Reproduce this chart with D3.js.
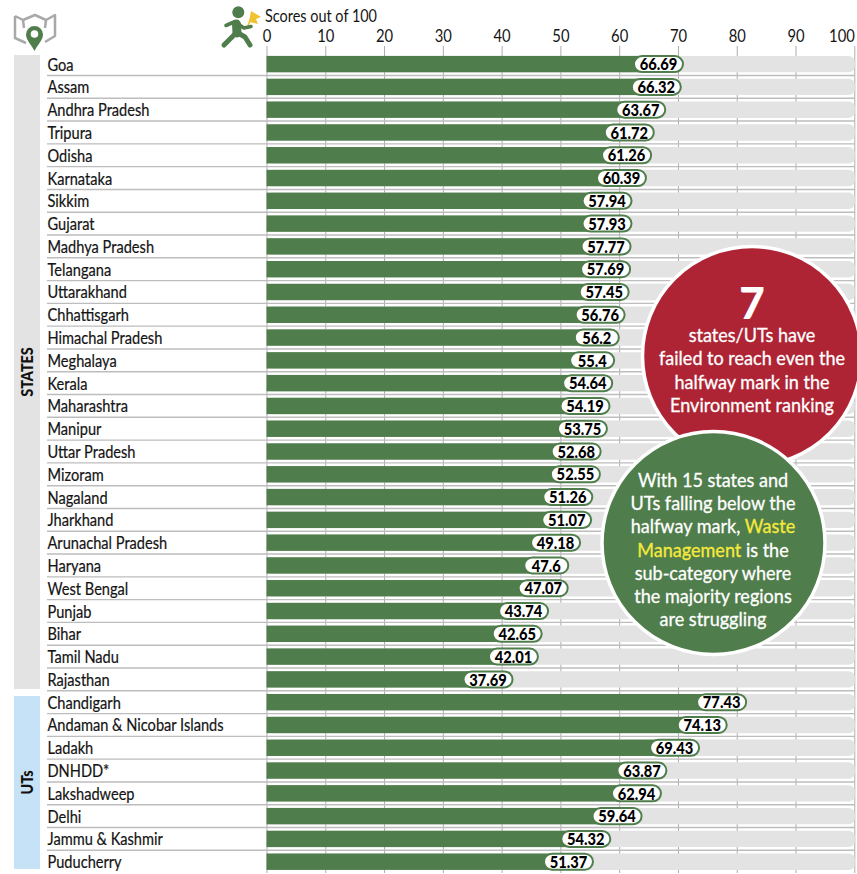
<!DOCTYPE html>
<html>
<head>
<meta charset="utf-8">
<script src="https://cdn.jsdelivr.net/npm/d3@7"></script>
<style>
  html, body { margin: 0; padding: 0; background: #fff; }
  svg { display: block; }
  text { font-family: Lato, "Noto Sans", sans-serif; }
</style>
</head>
<body>
<div id="chart"></div>
<script>
"use strict";

// Values
var stateNames = ["Goa", "Assam", "Andhra Pradesh", "Tripura", "Odisha", "Karnataka", "Sikkim", "Gujarat",
  "Madhya Pradesh", "Telangana", "Uttarakhand", "Chhattisgarh", "Himachal Pradesh", "Meghalaya", "Kerala",
  "Maharashtra", "Manipur", "Uttar Pradesh", "Mizoram", "Nagaland", "Jharkhand", "Arunachal Pradesh",
  "Haryana", "West Bengal", "Punjab", "Bihar", "Tamil Nadu", "Rajasthan"];
var stateScores = ["66.69", "66.32", "63.67", "61.72", "61.26", "60.39", "57.94", "57.93",
  "57.77", "57.69", "57.45", "56.76", "56.2", "55.4", "54.64",
  "54.19", "53.75", "52.68", "52.55", "51.26", "51.07", "49.18",
  "47.6", "47.07", "43.74", "42.65", "42.01", "37.69"];
var utNames = ["Chandigarh", "Andaman & Nicobar Islands", "Ladakh", "DNHDD*", "Lakshadweep", "Delhi",
  "Jammu & Kashmir", "Puducherry"];
var utScores = ["77.43", "74.13", "69.43", "63.87", "62.94", "59.64", "54.32", "51.37"];
var axisTicks = [0, 10, 20, 30, 40, 50, 60, 70, 80, 90, 100];

var redLines = ["states/UTs have", "failed to reach even the", "halfway mark in the", "Environment ranking"];
var greenLines = [
  [["With 15 states and", 0]],
  [["UTs falling below the", 0]],
  [["halfway mark, ", 0], ["Waste", 1]],
  [["Management", 1], [" is the", 0]],
  [["sub-category where", 0]],
  [["the majority regions", 0]],
  [["are struggling", 0]]
];

var GREEN = "#4f7d4b", RED = "#ae2434", TRACK = "#e3e3e3", INK = "#141414";
var squeeze = 0.87; // the original type is condensed

var names = stateNames.concat(utNames);
var scores = stateScores.concat(utScores);

var svg = d3.select("#chart").append("svg")
  .attr("width", 857)
  .attr("height", 874);

var x = d3.scaleLinear().domain([0, 100]).range([266.5, 854.3]);
var y = d3.scaleBand().domain(names).range([52.7, 873.1]).paddingInner(0.28).paddingOuter(0.14);

// Group bands on the left
function groupBand(list, fill, label, topPad, bottomPad) {
  var top = y(list[0]) + topPad;
  var bottom = y(list[list.length - 1]) + y.bandwidth() + bottomPad;
  svg.append("rect")
    .attr("x", 14).attr("y", top).attr("width", 26).attr("height", bottom - top)
    .attr("fill", fill);
  svg.append("text")
    .attr("transform", "translate(32.5," + ((top + bottom) / 2) + ") rotate(-90) scale(" + squeeze + ",1)")
    .attr("text-anchor", "middle")
    .attr("font-size", 16.5).attr("font-weight", 900).attr("fill", "#111")
    .text(label);
}
groupBand(stateNames, "#e3e3e3", "STATES", -1, 1.5);
groupBand(utNames, "#c5e2f6", "UTs", 2, -1);

// Axis, long ticks run behind the bars
var axis = svg.append("g")
  .attr("transform", "translate(0,46)")
  .call(d3.axisTop(x).tickValues(axisTicks).tickSize(-827).tickPadding(4));
axis.select(".domain").remove();
axis.selectAll("line").attr("stroke", "#adadad").attr("stroke-width", 1);
axis.selectAll("text")
  .attr("font-size", 17).attr("fill", INK)
  .style("font-family", "Lato, 'Noto Sans', sans-serif")
  .attr("transform", "scale(" + squeeze + ",1)")
  .attr("text-anchor", function (d) { return d === 100 ? "end" : "middle"; });

svg.append("text")
  .attr("transform", "translate(265,21.5) scale(0.875,1)")
  .attr("font-size", 16.5).attr("fill", INK)
  .text("Scores out of 100");

// Rows
var rows = svg.selectAll("g.row")
  .data(names)
  .enter()
  .append("g")
  .attr("class", "row");

rows.filter(function (d) { return d !== "Puducherry"; })
  .append("line")
  .attr("x1", 47).attr("x2", 855)
  .attr("y1", function (d) { return y(d) + y.bandwidth() + y.step() * 0.14; })
  .attr("y2", function (d) { return y(d) + y.bandwidth() + y.step() * 0.14; })
  .attr("stroke", "#bdbdbd").attr("stroke-width", 1.4);

rows.append("text")
  .attr("transform", function (d) { return "translate(47.5," + (y(d) + y.bandwidth() / 2 + 6.5) + ") scale(0.885,1)"; })
  .attr("font-size", 16.5).attr("fill", INK)
  .attr("stroke", INK).attr("stroke-width", 0.2)
  .text(function (d) { return d; });

rows.append("rect")
  .attr("x", x(0)).attr("y", function (d) { return y(d); })
  .attr("width", x(100) - x(0) + 0.5).attr("height", y.bandwidth())
  .attr("rx", 6)
  .attr("fill", TRACK);

rows.append("rect")
  .attr("x", x(0)).attr("y", function (d) { return y(d); })
  .attr("width", function (d, i) { return x(+scores[i]) - x(0); })
  .attr("height", y.bandwidth())
  .attr("fill", GREEN);

// Value pills are centred on the value
rows.append("rect")
  .attr("x", function (d, i) { return x(+scores[i]) - (scores[i].length > 4 ? 24.5 : 22); })
  .attr("y", function (d) { return y(d) + 0.2; })
  .attr("width", function (d, i) { return scores[i].length > 4 ? 49 : 44; })
  .attr("height", y.bandwidth() - 0.4)
  .attr("rx", 8.2)
  .attr("fill", "#fff").attr("stroke", GREEN).attr("stroke-width", 2);

rows.append("text")
  .attr("transform", function (d, i) { return "translate(" + x(+scores[i]) + "," + (y(d) + y.bandwidth() / 2 + 6.2) + ") scale(0.89,1)"; })
  .attr("text-anchor", "middle")
  .attr("font-size", 16.5).attr("font-weight", 900).attr("fill", "#000")
  .text(function (d, i) { return scores[i]; });

// Callouts
svg.append("circle").attr("cx", 752).attr("cy", 356).attr("r", 109.5)
  .attr("fill", RED).attr("stroke", "#fff").attr("stroke-width", 3.5);

svg.append("text")
  .attr("x", 752).attr("y", 319)
  .attr("text-anchor", "middle")
  .attr("font-size", 44).attr("font-weight", 900).attr("fill", "#fff")
  .text("7");

redLines.forEach(function (line, i) {
  svg.append("text")
    .attr("transform", "translate(752," + (342 + i * 23.3) + ") scale(0.95,1)")
    .attr("text-anchor", "middle")
    .attr("font-size", 19).attr("fill", "#fff")
    .attr("stroke", "#fff").attr("stroke-width", 0.3)
    .text(line);
});

svg.append("circle").attr("cx", 713.5).attr("cy", 543).attr("r", 111.5)
  .attr("fill", GREEN).attr("stroke", "#fff").attr("stroke-width", 3.5);

greenLines.forEach(function (line, i) {
  var t = svg.append("text")
    .attr("transform", "translate(713," + (487 + i * 23.2) + ") scale(0.95,1)")
    .attr("text-anchor", "middle")
    .attr("font-size", 19).attr("stroke-width", 0.3);
  line.forEach(function (part) {
    t.append("tspan")
      .attr("fill", part[1] ? "#f6ea3c" : "#fff")
      .attr("stroke", part[1] ? "#f6ea3c" : "#fff")
      .style("white-space", "pre")
      .text(part[0]);
  });
});

// Map icon
var mapIcon = svg.append("g").attr("fill", "none").attr("stroke", "#a9a9a9").attr("stroke-width", 2.5).attr("stroke-linejoin", "round");
mapIcon.append("path").attr("d", "M15 16 L23 20 L35 15 L46 20 L55 15 L55 36 L45 42");
mapIcon.append("path").attr("d", "M15 16 L15 38 L26 43");
mapIcon.append("path").attr("d", "M23 20 L24 28 M46 20 L45 28");
svg.append("path")
  .attr("d", "M34.5 51 C31 44 26 40 26 34.5 A8.5 8.5 0 0 1 43 34.5 C43 40 38 44 34.5 51 Z")
  .attr("fill", GREEN);
svg.append("circle").attr("cx", 34.5).attr("cy", 34).attr("r", 3.8).attr("fill", "#fff");

// Runner icon
var runner = svg.append("g");
runner.append("path").attr("d", "M247 29 L252 14").attr("stroke", "#f1c232").attr("stroke-width", 1.6);
runner.append("path").attr("d", "M251 11 L261 17 L256 19 L258 24 L249 22 Z").attr("fill", "#f1c232");
runner.append("circle").attr("cx", 238.3).attr("cy", 12.3).attr("r", 6).attr("fill", GREEN);
var limbs = runner.append("g").attr("fill", "none").attr("stroke", GREEN)
  .attr("stroke-linecap", "round").attr("stroke-linejoin", "round");
limbs.append("path").attr("d", "M236.5 24 L237 33").attr("stroke-width", 9);
limbs.append("path").attr("d", "M235 21.5 L226 25.5").attr("stroke-width", 3.6);
limbs.append("path").attr("d", "M238 24 L244 28 L251 26.5").attr("stroke-width", 3.6);
limbs.append("path").attr("d", "M236 33 L231 38 L224 45").attr("stroke-width", 5);
limbs.append("path").attr("d", "M238 33 L245 37 L250 45").attr("stroke-width", 5);
</script>
</body>
</html>
